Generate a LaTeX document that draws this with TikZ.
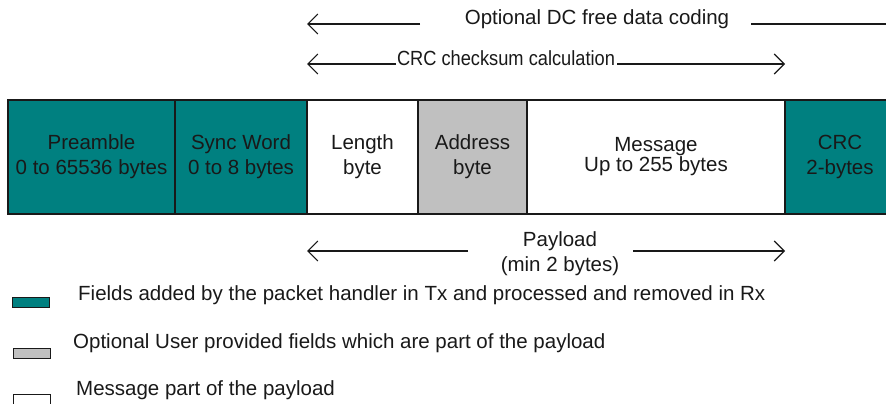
\documentclass[tikz,border=0pt]{standalone}
\usepackage{fontspec}
\setmainfont{Liberation Sans}
\usepackage{tikz}
\usetikzlibrary{positioning,arrows.meta}
\definecolor{fieldteal}{RGB}{0,128,128}
\definecolor{usergray}{RGB}{192,192,192}
\definecolor{ink}{RGB}{25,25,25}

\begin{document}
\begin{tikzpicture}[x=1pt,y=-1pt,
    font=\fontsize{20.5}{25}\selectfont, text=ink,
    field/.style={draw=ink, line width=1.3pt, minimum height=114pt, inner sep=0pt, outer sep=0pt, align=center},
    keybox/.style={draw=ink, line width=1pt, minimum width=37pt, minimum height=10pt, inner sep=0pt},
    arr/.style={-{Straight Barb[length=10pt,width=20pt,line width=1.1pt]}, line width=1.1pt, draw=ink}]
    \useasboundingbox (0,0) rectangle (886,404);
    % packet fields
    \node[field, fill=fieldteal, minimum width=167pt, anchor=west] (pre) at (8,157) {Preamble\\0 to 65536 bytes};
    \node[field, fill=fieldteal, minimum width=132pt, right=0pt of pre] (sync) {Sync Word\\0 to 8 bytes};
    \node[field, fill=white, minimum width=111pt, right=0pt of sync] (len) {Length\\byte};
    \node[field, fill=usergray, minimum width=109pt, right=0pt of len] (addr) {Address\\byte};
    \node[field, fill=white, minimum width=258pt, right=0pt of addr] (msg) {Message\\[-5pt]Up to 255 bytes};
    \node[field, fill=fieldteal, minimum width=110pt, right=0pt of msg] (crc) {CRC\\2-bytes};
    % ranges above and below
    \node (dc) at (597,19) {Optional DC free data coding};
    \coordinate (dcA) at (420,24);
    \coordinate (dcB) at (751,24);
    \coordinate (dcC) at (900,24);
    \draw[arr] (dcA) -- (dcA -| len.west);
    \draw[line width=1.1pt, draw=ink] (dcB) -- (dcC);
    \node[xscale=0.89] (calc) at (506,58) {CRC checksum calculation};
    \coordinate (calcA) at (396,64);
    \coordinate (calcB) at (617,64);
    \draw[arr] (calcA) -- (calcA -| len.west);
    \draw[arr] (calcB) -- (calcB -| crc.west);
    \node[align=center] (pay) at (560,254) {Payload\\(min 2 bytes)};
    \coordinate (payA) at (468,251);
    \coordinate (payB) at (633,251);
    \draw[arr] (payA) -- (payA -| len.west);
    \draw[arr] (payB) -- (payB -| crc.west);
    % legend
    \node[keybox, fill=fieldteal] (k1) at (31,302) {};
    \node[keybox, fill=usergray] (k2) at (32,353) {};
    \node[keybox, fill=white] (k3) at (32,399) {};
    \node[anchor=west, inner sep=0pt] (t1) at (78,295) {Fields added by the packet handler in Tx and processed and removed in Rx};
    \node[anchor=west, inner sep=0pt] (t2) at (73,343) {Optional User provided fields which are part of the payload};
    \node[anchor=west, inner sep=0pt] (t3) at (76,390) {Message part of the payload};
\end{tikzpicture}
\end{document}
